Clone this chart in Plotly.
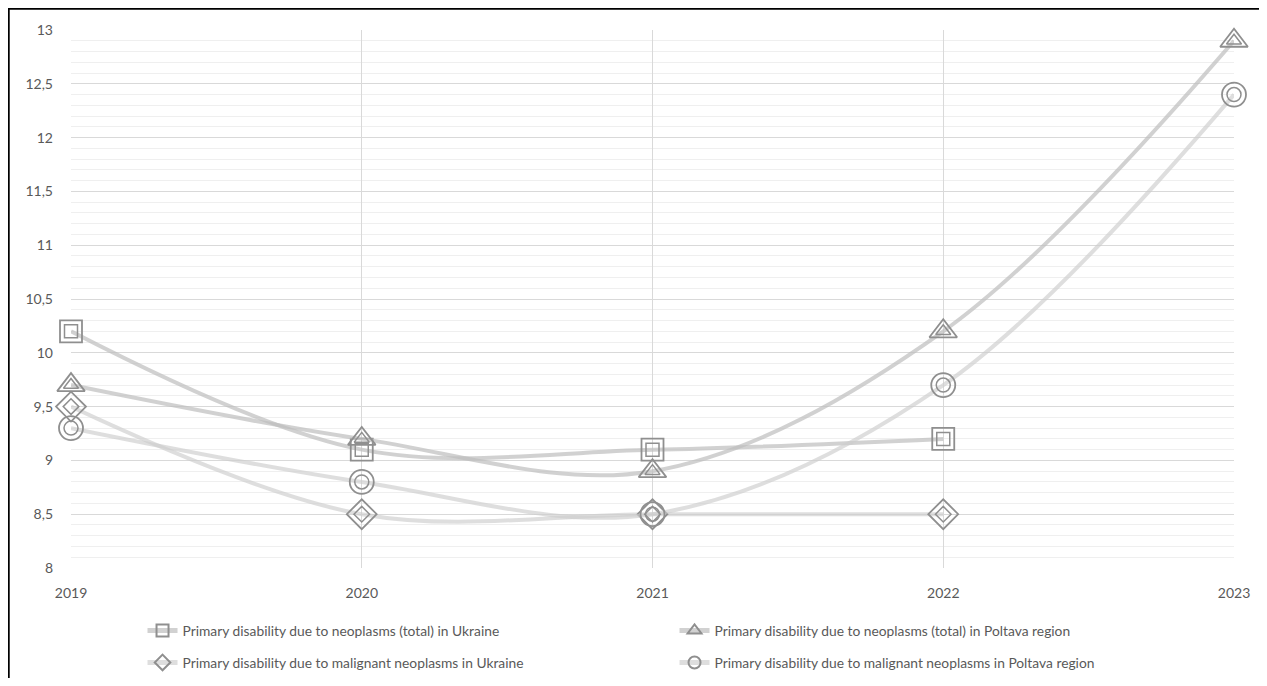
import plotly.graph_objects as go

years = [2019, 2020, 2021, 2022, 2023]
ukr_total = [10.2, 9.1, 9.1, 9.2, None]
pol_total = [9.7, 9.2, 8.9, 10.2, 12.9]
ukr_malig = [9.5, 8.5, 8.5, 8.5, None]
pol_malig = [9.3, 8.8, 8.5, 9.7, 12.4]

names = [
    "Primary disability due to neoplasms (total) in Ukraine",
    "Primary disability due to neoplasms (total) in Poltava region",
    "Primary disability due to malignant neoplasms in Ukraine",
    "Primary disability due to malignant neoplasms in Poltava region",
]
series = [ukr_total, pol_total, ukr_malig, pol_malig]
symbols = ["square", "triangle-up", "diamond", "circle"]
outer_sizes = [22, 24, 23, 24]
inner_sizes = [13, 13, 12, 14]
line_colors = ["rgba(190,190,190,0.7)", "rgba(190,190,190,0.7)",
               "rgba(205,205,205,0.65)", "rgba(205,205,205,0.65)"]
legend_ids = ["legend", "legend", "legend2", "legend2"]

ytick_vals = [8, 8.5, 9, 9.5, 10, 10.5, 11, 11.5, 12, 12.5, 13]
ytick_text = ["8", "8,5", "9", "9,5", "10", "10,5", "11", "11,5", "12", "12,5", "13"]

FONT = "Lato"
GREY_TXT = "#595959"
MARK = "#8f8f8f"

fig = go.Figure()

# smoothed lines with outer markers (legend entries)
for name, ys, sym, so, lc, lg in zip(names, series, symbols, outer_sizes, line_colors, legend_ids):
    xs = [x for x, y in zip(years, ys) if y is not None]
    yv = [y for y in ys if y is not None]
    fig.add_trace(go.Scatter(
        x=xs, y=yv, name=name, mode="lines+markers", legend=lg, cliponaxis=False,
        line=dict(color=lc, width=4, shape="spline", smoothing=1.0),
        marker=dict(symbol=sym + "-open", size=so, color=MARK, line=dict(width=1.8, color=MARK)),
    ))

# inner outlines of the double markers
for ys, sym, si in zip(series, symbols, inner_sizes):
    xs = [x for x, y in zip(years, ys) if y is not None]
    yv = [y for y in ys if y is not None]
    fig.add_trace(go.Scatter(
        x=xs, y=yv, mode="markers", showlegend=False, hoverinfo="skip", cliponaxis=False,
        marker=dict(symbol=sym + "-open", size=si, color=MARK, line=dict(width=1.5, color=MARK)),
    ))

# outer frame of the picture
fig.add_shape(type="rect", xref="paper", yref="paper",
              x0=-0.0542, x1=1.2, y0=-0.5, y1=1.0409,
              line=dict(color="black", width=3.5), fillcolor="rgba(0,0,0,0)", layer="above")

legend_common = dict(
    orientation="h", xanchor="left", yanchor="top", xref="paper", yref="container",
    entrywidth=487, entrywidthmode="pixels",
    font=dict(family=FONT, size=13.8, color=GREY_TXT),
    itemsizing="constant", itemwidth=30, bgcolor="rgba(0,0,0,0)",
)

fig.update_layout(
    width=1259, height=670,
    paper_bgcolor="white", plot_bgcolor="white",
    margin=dict(l=63, r=33, t=22, b=110),
    font=dict(family=FONT, size=14, color=GREY_TXT),
    legend=dict(x=0.0615, y=0.0940, **legend_common),
    legend2=dict(x=0.0615, y=0.0463, **legend_common),
    showlegend=True,
)

fig.update_xaxes(
    range=[2019, 2023], tickvals=years, ticktext=[str(y) for y in years],
    showgrid=True, gridcolor="#d9d9d9", gridwidth=1,
    zeroline=False, showline=False, ticks="", ticklabelstandoff=15,
    tickfont=dict(family=FONT, size=14, color=GREY_TXT),
)
fig.update_yaxes(
    range=[8, 13], tickvals=ytick_vals, ticktext=ytick_text,
    showgrid=True, gridcolor="#d9d9d9", gridwidth=1,
    minor=dict(dtick=0.1, showgrid=True, gridcolor="#efefef", gridwidth=1),
    zeroline=False, showline=False, ticks="", ticklabelstandoff=17,
    tickfont=dict(family=FONT, size=14, color=GREY_TXT),
)

fig.write_html("out.html")
